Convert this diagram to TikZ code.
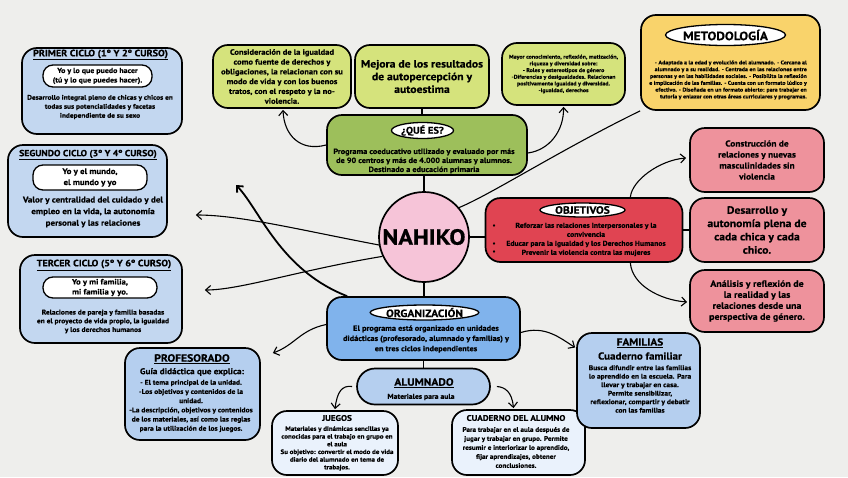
\documentclass[tikz,border=0pt]{standalone}
\usepackage{fontspec}
\setmainfont[FakeStretch=1.1,BoldFeatures={FakeBold=0.5}]{PT Sans}
\usetikzlibrary{shapes.geometric,arrows.meta,calc}
\definecolor{bgc}{HTML}{EEEEEC}
\definecolor{cyc}{HTML}{C3D7F0}
\definecolor{gry}{HTML}{D5E37C}
\definecolor{grn}{HTML}{9DBF5B}
\definecolor{ylw}{HTML}{F9D36B}
\definecolor{pkc}{HTML}{F6C4D8}
\definecolor{redc}{HTML}{E04452}
\definecolor{pkb}{HTML}{EE929C}
\definecolor{blo}{HTML}{80B3EC}
\definecolor{bla}{HTML}{B5CFEF}
\definecolor{lgt}{HTML}{EAF2FC}
\newcommand{\fs}[2]{\fontsize{#1}{#2}\selectfont\bfseries}
\begin{document}
\begin{tikzpicture}[x=1pt,y=-1pt,
  bx/.style={draw=black,line width=1.7pt,rounded corners=15pt,inner sep=0pt},
  pill/.style={draw=black,line width=1.3pt,fill=white,rounded corners=10pt,inner sep=0pt,align=center},
  oval/.style={draw=black,line width=1.3pt,fill=white,ellipse,inner sep=0pt},
  txt/.style={align=center,inner sep=0pt},
  ln/.style={line width=1.1pt,black},
  arr/.style={line width=1.1pt,black,-{Straight Barb[length=5pt,width=9pt]}}]
\useasboundingbox (0,0) rectangle (848,477);
\fill[bgc] (0,0) rectangle (848,477);

% ---- cycle boxes
\node[bx,fill=cyc,minimum width=160,minimum height=86] (c1) at (102,91) {};
\node[txt,font=\fs{9.2}{10}] (c1t) at (100.5,55) {\underline{PRIMER CICLO (1º Y 2º CURSO)}};
\node[pill,minimum width=109,minimum height=22,font=\fs{7.2}{9.5}] (c1p) at (97.5,76) {Yo y lo que puedo hacer\\(tú y lo que puedes hacer).};
\node[txt,font=\fs{6.7}{9}] (c1b) at (100,107) {Desarrollo integral pleno de chicas y chicos en\\todas sus potencialidades y facetas\\independiente de su sexo};

\node[bx,fill=cyc,minimum width=159,minimum height=92] (c2) at (87.5,191) {};
\node[txt,font=\fs{8.8}{10}] (c2t) at (88,155) {\underline{SEGUNDO CICLO (3º Y 4º CURSO)}};
\node[pill,minimum width=114,minimum height=25,font=\fs{8}{11}] (c2p) at (90,177.5) {Yo y el mundo,\\el mundo y yo};
\node[txt,font=\fs{8.2}{11.6}] (c2b) at (93,212) {Valor y centralidad del cuidado y del\\empleo en la vida, la autonomía\\personal y las relaciones};

\node[bx,fill=cyc,minimum width=162,minimum height=88] (c3) at (101,299) {};
\node[txt,font=\fs{9.2}{10}] (c3t) at (104,265) {\underline{TERCER CICLO (5º Y 6º CURSO)}};
\node[pill,minimum width=114,minimum height=21,font=\fs{7.8}{10}] (c3p) at (100,287.5) {Yo y mi familia,\\mi familia y yo.};
\node[txt,font=\fs{6.8}{8.7}] (c3b) at (103,321.5) {Relaciones de pareja y familia basadas\\en el proyecto de vida propio, la igualdad\\y los derechos humanos};

% ---- top green boxes
\node[bx,fill=gry,minimum width=138,minimum height=63,font=\fs{7.7}{9.8},align=center] (cons) at (282,76.5) {Consideración de la igualdad\\como fuente de derechos y\\obligaciones, la relacionan con su\\modo de vida y con los buenos\\tratos, con el respeto y la no-\\violencia.};
\node[bx,fill=gry,minimum width=134,minimum height=63,font=\fs{10.6}{12.7},align=center] (mej) at (422,76.5) {Mejora de los resultados\\de autopercepción y\\autoestima};
\node[bx,fill=gry,minimum width=123,minimum height=62,font=\fs{5.4}{6.7},align=center] (may) at (563.5,74) {Mayor conocimiento, reflexión, matización,\\riqueza y diversidad sobre:\\- Roles y estereotipos de género\\-Diferencias y desigualdades. Relacionan\\positivamente igualdad y diversidad.\\-Igualdad, derechos};

% ---- metodologia
\node[bx,fill=ylw,minimum width=179,minimum height=95] (met) at (730.5,62.5) {};
\node[oval,minimum width=111,minimum height=21,font=\fs{12}{13}] (metT) at (725.5,35) {METODOLOGÍA};
\node[txt,align=right,font=\fs{5.4}{6.8}] (metB) at (728,80) {- Adaptada a la edad y evolución del alumnado. - Cercana al\\alumnado y a su realidad. - Centrada en las relaciones entre\\personas y en las habilidades sociales. - Posibilita la reflexión\\e implicación de las familias. - Cuenta con un formato lúdico y\\efectivo. - Diseñada en un formato abierto: para trabajar en\\tutoría y enlazar con otras áreas curriculares y programas.};

% ---- que es
\node[bx,fill=grn,minimum width=200,minimum height=60] (que) at (427,145) {};
\node[oval,minimum width=62,minimum height=16,font=\fs{9.6}{11}] (queT) at (422.5,130.5) {¿QUÉ ES?};
\node[txt,font=\fs{7.5}{9}] (queB) at (424,161) {Programa coeducativo utilizado y evaluado por más\\de 90 centros y más de 4.000 alumnas y alumnos.\\Destinado a educación primaria};

% ---- nahiko
\node[circle,draw=black,line width=1.7pt,fill=pkc,minimum size=90,inner sep=0pt,font=\fs{22}{24}] (nah) at (424,237) {NAHIKO};

% ---- objetivos
\node[bx,fill=redc,minimum width=197,minimum height=64] (obj) at (584,230) {};
\node[oval,minimum width=85,minimum height=14,font=\fs{10.5}{12}] (objT) at (582.5,210) {OBJETIVOS};
\node[txt,font=\fs{7}{9}] (objB) at (586,239.5) {Reforzar las relaciones interpersonales y la\\convivencia\\Educar para la igualdad y los Derechos Humanos\\Prevenir la violencia contra las mujeres};
\foreach \yy/\nm in {226/b1,244/b2,252/b3}{\node[txt,font=\fs{6}{7}] (\nm) at (494,\yy) {•};}

% ---- pink boxes
\node[bx,fill=pkb,minimum width=134,minimum height=64,font=\fs{8.5}{11},align=center] (pk1) at (757,160) {Construcción de\\relaciones y  nuevas\\masculinidades sin\\violencia};
\node[bx,fill=pkb,minimum width=134,minimum height=64,font=\fs{10.6}{13.3},align=center] (pk2) at (757,230) {Desarrollo y\\autonomía plena de\\cada chica y cada\\chico.};
\node[bx,fill=pkb,minimum width=134,minimum height=62,font=\fs{9}{11},align=center] (pk3) at (757,301) {Análisis y reflexión de\\la realidad y las\\relaciones desde una\\perspectiva de género.};

% ---- organizacion
\node[bx,fill=blo,minimum width=193,minimum height=63] (org) at (423.5,328.5) {};
\node[oval,minimum width=95,minimum height=15,font=\fs{10.5}{12}] (orgT) at (424.5,312.5) {ORGANIZACIÓN};
\node[txt,font=\fs{7.5}{10.2}] (orgB) at (426,339) {El programa está organizado en unidades\\didácticas (profesorado, alumnado y familias) y\\en tres ciclos independientes};

% ---- alumnado
\node[bx,fill=bla,minimum width=133,minimum height=36,rounded corners=18pt] (alu) at (423.5,386.5) {};
\node[txt,font=\fs{10.5}{12}] (aluT) at (424,383) {\underline{ALUMNADO}};
\node[txt,font=\fs{7}{8}] (aluB) at (421,397) {Materiales para aula};

% ---- profesorado
\node[bx,fill=bla,minimum width=135,minimum height=92] (pro) at (192.5,394) {};
\node[txt,font=\fs{10.5}{12}] (proT) at (192,359) {\underline{PROFESORADO}};
\node[txt,font=\fs{8.3}{9}] (proS) at (192,372) {Guía didáctica que explica:};
\node[txt,font=\fs{6.8}{9.2}] (proB) at (191,406) {- El tema principal de la unidad.\\-Los objetivos y contenidos de la\\unidad.\\-La descripción, objetivos y contenidos\\de los materiales, así como las reglas\\para la utilización de los juegos.};

% ---- juegos
\node[bx,fill=lgt,minimum width=126,minimum height=64] (jue) at (335,443) {};
\node[txt,font=\fs{8.2}{9}] (jueT) at (337,418) {JUEGOS};
\node[txt,font=\fs{6.3}{7.7}] (jueB) at (337,448.5) {Materiales y dinámicas sencillas ya\\conocidas para el trabajo en grupo en\\el aula\\Su objetivo: convertir el modo de vida\\diario del alumnado en tema de\\trabajos.};

% ---- cuaderno
\node[bx,fill=lgt,minimum width=133,minimum height=65] (cua) at (518.5,442.5) {};
\node[txt,font=\fs{8.2}{9}] (cuaT) at (516,418) {CUADERNO DEL ALUMNO};
\node[txt,font=\fs{6.5}{9}] (cuaB) at (516,447.5) {Para trabajar en el aula después de\\jugar y trabajar en grupo. Permite\\resumir e interiorizar lo aprendido,\\fijar aprendizajes, obtener\\conclusiones.};

% ---- familias
\node[bx,fill=bla,minimum width=123,minimum height=95] (fam) at (638.5,380.5) {};
\node[txt,font=\fs{10.2}{12}] (famT) at (640,343) {\underline{FAMILIAS}};
\node[txt,font=\fs{10}{11}] (famS) at (640,356) {Cuaderno familiar};
\node[txt,font=\fs{6.8}{8.5}] (famB) at (640,389) {Busca difundir entre las familias\\lo aprendido en la escuela. Para\\llevar y trabajar en casa.\\Permite sensibilizar,\\reflexionar, compartir y debatir\\con las familias};

% ---- connectors
\draw[ln] (nah.north) -- (que.south -| nah.north);
\draw[ln] (que.north -| mej.south) -- (mej.south);
\draw[ln] (nah.south) -- (org.north -| nah.south);
\draw[ln] (org.south -| alu.north) -- (alu.north);
\draw[ln] (nah.east) -- (obj.west |- nah.east);
\draw[ln] (obj.east |- pk2.west) -- (pk2.west);
\draw[ln] (nah.40) .. controls (490,195) and (560,150) .. (met.south west);
\draw[arr] (que.west) .. controls (300,152) and (284,135) .. ($(cons.south)+(1,1)$);
\draw[arr] ($(que.east)+(0,8)$) .. controls (550,150) and (564,130) .. ($(may.south)+(0,1)$);
\draw[arr] ($(obj.north east)+(-53,0)$) .. controls (632,180) and (660,160) .. ($(pk1.west)+(-3,-2)$);
\draw[arr] ($(obj.south east)+(-53,0)$) .. controls (632,285) and (660,300) .. ($(pk3.west)+(-2,1)$);
\draw[arr] ($(org.east)+(0,4)$) .. controls (545,325) and (560,338) .. ($(fam.west)+(-1,-33)$);
\draw[arr] ($(org.west)+(0,-4)$) .. controls (300,330) and (295,345) .. ($(pro.east)+(12,-41)$);
\draw[arr] ($(alu.west)+(-4,0)$) .. controls (342,385) and (337,392) .. ($(jue.north)+(0,-1)$);
\draw[arr] ($(alu.east)+(6,0)$) .. controls (505,387) and (512,392) .. ($(cua.north)+(-5,-1)$);
\draw[arr,line width=1.8pt] ($(org.north west)+(21,0)$) .. controls (280,270) and (260,210) .. (236,185);
\draw[arr] (nah.190) .. controls (300,230) and (240,215) .. ($(c2.east)+(28,24)$);
\draw[arr] (nah.205) .. controls (300,270) and (240,290) .. ($(c3.east)+(22,-9)$);
\end{tikzpicture}
\end{document}
